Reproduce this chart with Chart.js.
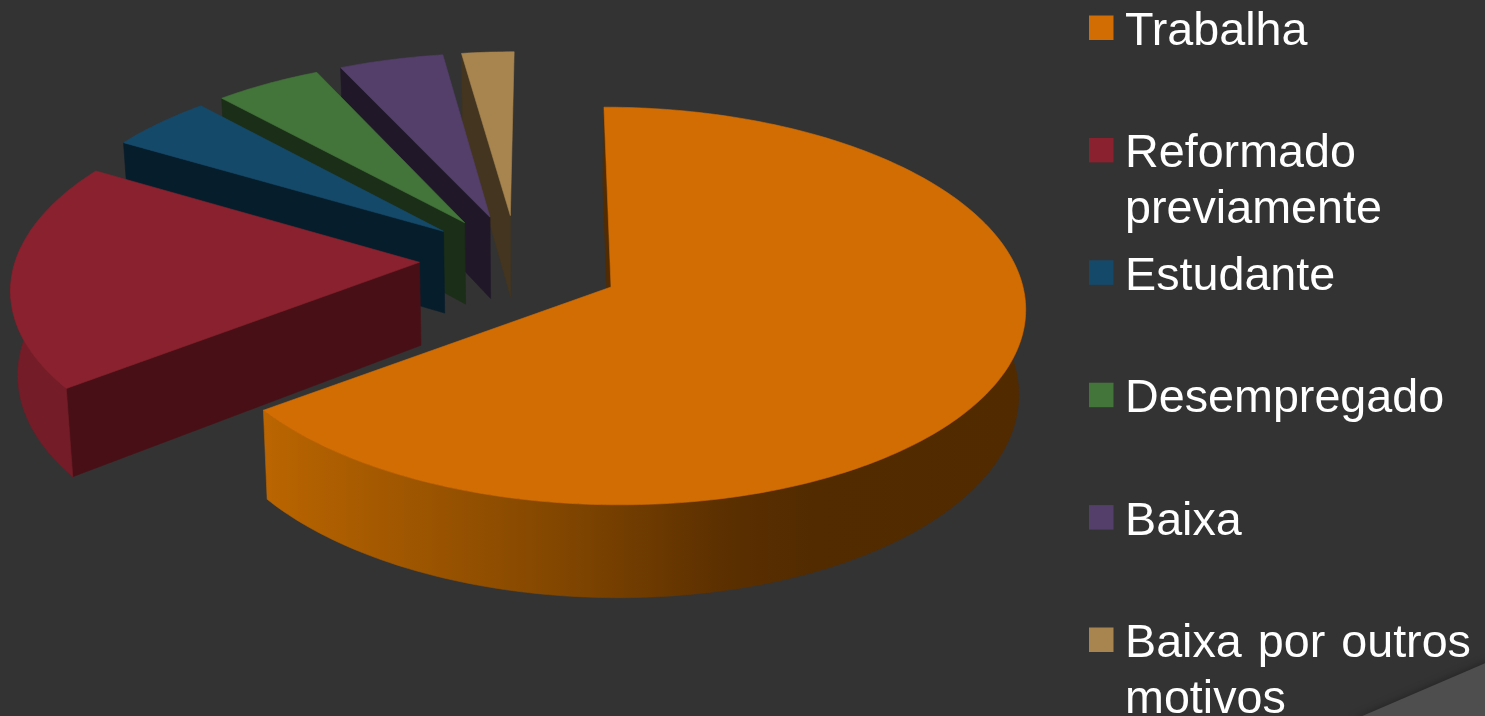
<!DOCTYPE html>
<html lang="pt">
<head>
<meta charset="utf-8">
<title>Situação profissional</title>
<script src="https://cdn.jsdelivr.net/npm/chart.js@4/dist/chart.umd.min.js"></script>
<style>
  html, body { margin: 0; padding: 0; background: #333333; overflow: hidden; }
  canvas { display: block; }
</style>
</head>
<body>
<canvas id="pie" width="1485" height="716"></canvas>
<script>
// Categories, one entry per legend row, split where the row wraps
const categories = [
  ['Trabalha'],
  ['Reformado', 'previamente'],
  ['Estudante'],
  ['Desempregado'],
  ['Baixa'],
  ['Baixa por outros', 'motivos']
];
// Share of respondents, in percent
const shares = [64.95, 18.85, 4.6, 4.7, 4.6, 2.3];
// Slice colours: top surface, rim and cut faces
const topColors  = ['#D26D03', '#8A212E', '#15496A', '#43743A', '#543E6A', '#A8854F'];
const rimColors  = ['#8A4B00', '#741C27', '#0F3650', '#2E5227', '#3B2C4A', '#77603A'];
const faceColors = ['#522B00', '#481016', '#061D2B', '#1B2E17', '#201829', '#43351F'];

// Perspective view of the exploded pie
const VIEW = {
  originX: 611, originY: 287,   // screen position of the first slice's tip
  scaleX: 412, scaleY: 197,     // pixels per pie radius at the origin
  persp: 0.0955, vanishX: 530,  // foreshortening towards the back of the pie
  depth: 84, nadirX: 530, nadirK: 0.014, // thickness of the extrusion
  groupU: -0.009,               // the smaller slices sit slightly further left
  tipU: -0.006, tipV: -0.028    // and their tips slightly further out
};

function project(u, v, lowered) {
  const w = 1 / (1 - VIEW.persp * v);
  let x = VIEW.vanishX + (u * VIEW.scaleX + VIEW.originX - VIEW.vanishX) * w;
  let y = VIEW.originY + VIEW.scaleY * v * w;
  if (lowered) {
    y += VIEW.depth * w;
    x = VIEW.nadirX + (x - VIEW.nadirX) * (1 - VIEW.nadirK);
  }
  return [x, y];
}

function fillPolygon(ctx, points, fill) {
  ctx.beginPath();
  points.forEach((p, i) => i ? ctx.lineTo(p[0], p[1]) : ctx.moveTo(p[0], p[1]));
  ctx.closePath();
  ctx.fillStyle = fill;
  ctx.fill();
  ctx.strokeStyle = fill;
  ctx.lineWidth = 0.6;
  ctx.stroke();
}

// Extrudes the arcs laid out by the pie controller, back slices first
const pie3d = {
  id: 'pie3d',
  beforeDatasetDraw(chart) {
    const ctx = chart.ctx;
    const arcs = chart.getDatasetMeta(0).data;
    const first = arcs[0];
    const mid0 = (first.startAngle + first.endAngle) / 2;
    const explode = first.options.offset / 4 / first.outerRadius;
    const shiftU = -Math.cos(mid0) * explode;
    const shiftV = -Math.sin(mid0) * explode;

    const rimFill = ctx.createLinearGradient(265, 0, 1025, 0);
    rimFill.addColorStop(0, '#BA6500');
    rimFill.addColorStop(0.37, '#854800');
    rimFill.addColorStop(0.60, '#5C3000');
    rimFill.addColorStop(0.72, '#522B00');
    rimFill.addColorStop(1, '#512A00');

    for (let i = arcs.length - 1; i >= 0; i--) {
      const arc = arcs[i];
      const mid = (arc.startAngle + arc.endAngle) / 2;
      const centerU = Math.cos(mid) * explode + shiftU + (i ? VIEW.groupU : 0);
      const centerV = Math.sin(mid) * explode + shiftV;
      const top = [], rimTop = [], rimBottom = [];
      const steps = Math.max(8, Math.ceil((arc.endAngle - arc.startAngle) * 60));
      for (let s = 0; s <= steps; s++) {
        const a = arc.startAngle + (arc.endAngle - arc.startAngle) * s / steps;
        const u = centerU + Math.cos(a), v = centerV + Math.sin(a);
        top.push(project(u, v, false));
        // Only the part of the rim that faces the viewer gets drawn
        if (Math.sin(a) > -0.12) {
          rimTop.push(project(u, v, false));
          rimBottom.push(project(u, v, true));
        }
      }
      const tipU = centerU + (i ? VIEW.tipU : 0);
      const tipV = centerV + (i ? VIEW.tipV : 0);
      const tipTop = project(tipU, tipV, false);
      const tipBottom = project(tipU, tipV, true);
      const firstA = arc.startAngle;
      const edgeBottom = project(centerU + Math.cos(firstA), centerV + Math.sin(firstA), true);

      fillPolygon(ctx, [tipTop, top[0], edgeBottom, tipBottom], faceColors[i]);
      if (rimTop.length > 1) {
        fillPolygon(ctx, rimTop.concat(rimBottom.reverse()), i === 0 ? rimFill : rimColors[i]);
      }
      fillPolygon(ctx, [tipTop].concat(top), arc.options.backgroundColor);
    }
    return false;
  }
};

// Corner decoration and the legend column
const ROW_PITCH = 122.4, LINE_PITCH = 55.5;
const backdrop = {
  id: 'backdrop',
  beforeDraw(chart) {
    const ctx = chart.ctx;
    ctx.save();
    ctx.shadowColor = 'rgba(0,0,0,0.35)';
    ctx.shadowBlur = 8;
    ctx.fillStyle = '#4E4E4E';
    ctx.beginPath();
    ctx.moveTo(1353, 720);
    ctx.lineTo(1490, 661);
    ctx.lineTo(1490, 720);
    ctx.closePath();
    ctx.fill();
    ctx.restore();
  },
  afterDraw(chart) {
    const ctx = chart.ctx;
    ctx.save();
    ctx.font = '46.7px "Liberation Sans", Arial, sans-serif';
    ctx.textBaseline = 'alphabetic';
    ctx.wordSpacing = '3px';
    categories.forEach((lines, i) => {
      const y = 45 + ROW_PITCH * i;
      ctx.fillStyle = topColors[i];
      ctx.fillRect(1089, y - 29.5, 24.5, 24.5);
      ctx.fillStyle = '#FFFFFF';
      lines.forEach((line, j) => ctx.fillText(line, 1125, y + LINE_PITCH * j));
    });
    ctx.restore();
  }
};

new Chart(document.getElementById('pie'), {
  type: 'pie',
  data: {
    labels: categories.map(lines => lines.join(' ')),
    datasets: [{
      data: shares,
      backgroundColor: topColors,
      borderWidth: 0,
      offset: 232,
      hoverOffset: 0
    }]
  },
  options: {
    responsive: false,
    animation: false,
    events: [],
    plugins: { legend: { display: false }, tooltip: { enabled: false } }
  },
  plugins: [backdrop, pie3d]
});
</script>
</body>
</html>
